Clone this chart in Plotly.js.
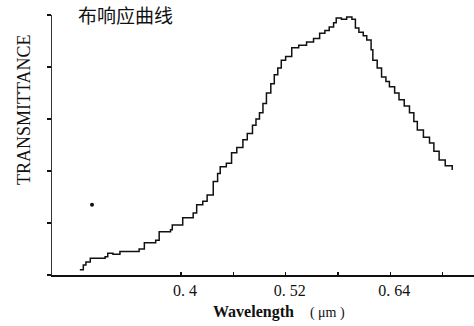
<!DOCTYPE html>
<html>
<head>
<meta charset="utf-8">
<script src="https://cdn.plot.ly/plotly-3.0.1.min.js"></script>
<style>html,body{margin:0;padding:0;background:#fff;}#chart{width:474px;height:326px;}</style>
</head>
<body>
<div id="chart"></div>
<script>
// Wavelength (µm) and transmittance (relative, tick units)
const wavelength = [0.284,0.288,0.291,0.296,0.313,0.316,0.322,0.330,0.352,0.358,0.371,0.375,0.388,0.390,0.402,0.414,0.418,0.425,0.430,0.437,0.442,0.445,0.452,0.458,0.464,0.471,0.476,0.482,0.486,0.490,0.494,0.498,0.503,0.507,0.511,0.515,0.520,0.527,0.535,0.544,0.552,0.559,0.565,0.570,0.575,0.578,0.584,0.590,0.596,0.600,0.604,0.609,0.613,0.618,0.620,0.625,0.630,0.635,0.639,0.645,0.650,0.656,0.662,0.667,0.671,0.678,0.685,0.690,0.696,0.703,0.711];
const transmittance = [0.10,0.19,0.25,0.32,0.35,0.42,0.40,0.45,0.50,0.62,0.67,0.83,0.87,0.96,1.10,1.19,1.35,1.42,1.54,1.80,1.95,2.08,2.15,2.35,2.45,2.60,2.72,2.88,3.00,3.12,3.30,3.50,3.68,3.85,3.98,4.13,4.20,4.37,4.42,4.48,4.55,4.65,4.70,4.77,4.85,4.94,4.92,4.96,4.92,4.75,4.67,4.60,4.52,4.33,4.13,3.98,3.81,3.72,3.62,3.50,3.37,3.25,3.12,2.95,2.79,2.65,2.54,2.38,2.21,2.10,2.02];
const strayX = [0.298];
const strayY = [1.35];
const xTickVals = [0.40,0.46,0.52,0.58,0.64,0.70];
const xTickText = ["0. 4","","0. 52","","0. 64",""];
const yTickVals = [0,1,2,3,4,5];

const traces = [
  {x: wavelength, y: transmittance, type:'scatter', mode:'lines',
   line:{color:'#111', width:1.5, shape:'hv'}, hoverinfo:'skip'},
  {x: strayX, y: strayY, type:'scatter', mode:'markers',
   marker:{color:'#111', size:4}, hoverinfo:'skip'}
];

const layout = {
  width:474, height:326,
  margin:{l:52, r:0, t:15, b:51},
  paper_bgcolor:'#fff', plot_bgcolor:'#fff',
  showlegend:false,
  font:{family:'"Liberation Serif", "DejaVu Serif", serif', color:'#111', size:14},
  xaxis:{range:[0.2521,0.736], showgrid:false, zeroline:false, showline:true,
         linecolor:'#111', linewidth:1.5, ticks:'inside', ticklen:3, tickwidth:1.5, tickcolor:'#111',
         tickvals:xTickVals, ticktext:xTickText, tickfont:{size:16}, ticklabelshift:4},
  yaxis:{range:[0,5], showgrid:false, zeroline:false, showline:true,
         linecolor:'#333', linewidth:1, ticks:'outside', ticklen:4, tickwidth:1.5, tickcolor:'#111',
         tickvals:yTickVals, showticklabels:false},
  annotations:[
    {text:'布响应曲线', xref:'paper', yref:'paper', x:(77-52)/422, y:1+(15-0.5)/260,
     xanchor:'left', yanchor:'top', showarrow:false, borderpad:0,
     font:{family:'"Noto Sans CJK SC", sans-serif', size:19, color:'#111'}},
    {text:'TRANSMITTANCE', xref:'paper', yref:'paper', x:(24-52)/422, y:(275-110)/260,
     xanchor:'center', yanchor:'middle', textangle:-90, showarrow:false,
     font:{size:18, color:'#111'}},
    {text:'<b>Wavelength</b>    <span style="font-size:14px">( μm )</span>', xref:'paper', yref:'paper',
     x:(279-52)/422, y:-(312-275)/260, xanchor:'center', yanchor:'middle', showarrow:false,
     font:{size:16, color:'#111'}}
  ]
};

Plotly.newPlot('chart', traces, layout, {staticPlot:true, displayModeBar:false});
</script>
</body>
</html>
